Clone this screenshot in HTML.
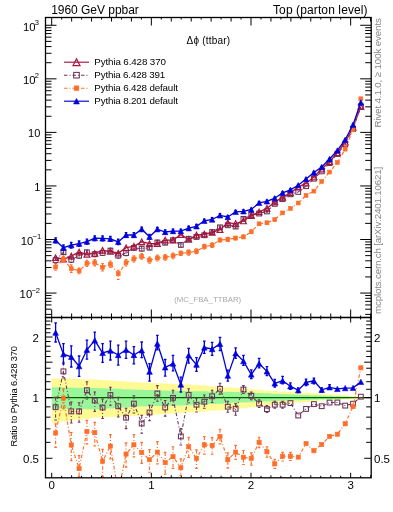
<!DOCTYPE html><html><head><meta charset="utf-8"><style>html,body{margin:0;padding:0;background:#fff;width:393px;height:512px;overflow:hidden}svg{display:block;will-change:transform}text{font-family:"Liberation Sans",sans-serif}</style></head><body>
<svg width="393" height="512" viewBox="0 0 393 512">
<defs><clipPath id="ct"><rect x="45.5" y="17.5" width="325.7" height="300"/></clipPath><clipPath id="cr"><rect x="45.5" y="317.5" width="325.7" height="160.3"/></clipPath></defs>
<g clip-path="url(#cr)">
<path d="M45.5 397.65H371.2" stroke="#000" stroke-width="1.4"/>
<path d="M51.7 378.14H59.53V387.36H51.7ZM51.7 408.77H59.53V422.52H51.7ZM59.53 378.43H67.35V387.49H59.53ZM59.53 408.92H67.35V421.56H59.53ZM67.35 378.72H75.18V387.62H67.35ZM67.35 409.06H75.18V420.61H67.35ZM75.18 379.01H83.01V387.74H75.18ZM75.18 409.21H83.01V419.65H75.18ZM83.01 379.3H90.83V387.87H83.01ZM83.01 409.35H90.83V418.69H83.01ZM90.83 379.59H98.66V388H90.83ZM90.83 409.5H98.66V417.73H90.83ZM98.66 380.07H106.49V388.28H98.66ZM98.66 409.03H106.49V417.35H98.66ZM106.49 380.56H114.31V388.58H106.49ZM106.49 408.54H114.31V416.99H106.49ZM114.31 381.05H122.14V388.87H114.31ZM114.31 408.05H122.14V416.64H114.31ZM122.14 381.54H129.96V389.16H122.14ZM122.14 407.56H129.96V416.28H122.14ZM129.96 382.03H137.79V389.46H129.96ZM129.96 407.07H137.79V415.92H129.96ZM137.79 382.52H145.62V389.75H137.79ZM137.79 406.58H145.62V415.56H137.79ZM145.62 382.86H153.44V389.98H145.62ZM145.62 406.32H153.44V415.08H145.62ZM153.44 383.18H161.27V390.2H153.44ZM153.44 406.1H161.27V414.58H153.44ZM161.27 383.5H169.1V390.41H161.27ZM161.27 405.89H169.1V414.08H161.27ZM169.1 383.81H176.92V390.63H169.1ZM169.1 405.67H176.92V413.58H169.1ZM176.92 384.13H184.75V390.85H176.92ZM176.92 405.45H184.75V413.08H176.92ZM184.75 384.45H192.58V391.06H184.75ZM184.75 405.24H192.58V412.59H184.75ZM192.58 384.98H200.4V391.21H192.58ZM192.58 404.87H200.4V412.02H192.58ZM200.4 385.57H208.23V391.34H200.4ZM200.4 404.47H208.23V411.43H200.4ZM208.23 386.15H216.06V391.48H208.23ZM208.23 404.07H216.06V410.85H208.23ZM216.06 386.73H223.88V391.61H216.06ZM216.06 403.67H223.88V410.27H216.06ZM223.88 387.31H231.71V391.74H223.88ZM223.88 403.27H231.71V409.69H223.88ZM231.71 387.9H239.54V391.88H231.71ZM231.71 402.87H239.54V409.1H231.71ZM239.54 388.51H247.36V392.2H239.54ZM239.54 402.5H247.36V408.29H239.54ZM247.36 389.14H255.19V392.57H247.36ZM247.36 402.13H255.19V407.43H247.36ZM255.19 389.76H263.02V392.94H255.19ZM255.19 401.76H263.02V406.56H255.19ZM263.02 390.38H270.84V393.3H263.02ZM263.02 401.4H270.84V405.7H263.02ZM270.84 391H278.67V393.67H270.84ZM270.84 401.03H278.67V404.84H270.84ZM278.67 391.63H286.49V394.04H278.67ZM278.67 400.66H286.49V403.98H278.67ZM286.49 392.11H294.32V394.36H286.49ZM286.49 400.38H294.32V403.23H286.49ZM294.32 392.48H302.15V394.64H294.32ZM294.32 400.16H302.15V402.58H294.32ZM302.15 392.85H309.97V394.92H302.15ZM302.15 399.94H309.97V401.93H302.15ZM309.97 393.22H317.8V395.21H309.97ZM309.97 399.73H317.8V401.28H309.97ZM317.8 393.59H325.63V395.49H317.8ZM317.8 399.51H325.63V400.62H317.8ZM325.63 394.15H333.45V395.84H325.63ZM325.63 399.23H333.45V400.23H325.63ZM333.45 394.72H341.28V396.2H333.45ZM333.45 398.94H341.28V399.85H333.45ZM341.28 395.29H349.11V396.55H341.28ZM341.28 398.66H349.11V399.48H341.28ZM349.11 395.86H356.93V396.91H349.11ZM349.11 398.37H356.93V399.1H349.11ZM356.93 396.6H364.76V397.18H356.93ZM356.93 398.12H364.76V398.58H356.93Z" fill="rgba(255,244,0,0.42)"/>
<path d="M51.7 387.36L59.53 387.36L59.53 387.49L67.35 387.49L67.35 387.62L75.18 387.62L75.18 387.74L83.01 387.74L83.01 387.87L90.83 387.87L90.83 388L98.66 388L98.66 388.28L106.49 388.28L106.49 388.58L114.31 388.58L114.31 388.87L122.14 388.87L122.14 389.16L129.96 389.16L129.96 389.46L137.79 389.46L137.79 389.75L145.62 389.75L145.62 389.98L153.44 389.98L153.44 390.2L161.27 390.2L161.27 390.41L169.1 390.41L169.1 390.63L176.92 390.63L176.92 390.85L184.75 390.85L184.75 391.06L192.58 391.06L192.58 391.21L200.4 391.21L200.4 391.34L208.23 391.34L208.23 391.48L216.06 391.48L216.06 391.61L223.88 391.61L223.88 391.74L231.71 391.74L231.71 391.88L239.54 391.88L239.54 392.2L247.36 392.2L247.36 392.57L255.19 392.57L255.19 392.94L263.02 392.94L263.02 393.3L270.84 393.3L270.84 393.67L278.67 393.67L278.67 394.04L286.49 394.04L286.49 394.36L294.32 394.36L294.32 394.64L302.15 394.64L302.15 394.92L309.97 394.92L309.97 395.21L317.8 395.21L317.8 395.49L325.63 395.49L325.63 395.84L333.45 395.84L333.45 396.2L341.28 396.2L341.28 396.55L349.11 396.55L349.11 396.91L356.93 396.91L356.93 397.18L364.76 397.18L364.76 398.12L356.93 398.12L356.93 398.37L349.11 398.37L349.11 398.66L341.28 398.66L341.28 398.94L333.45 398.94L333.45 399.23L325.63 399.23L325.63 399.51L317.8 399.51L317.8 399.73L309.97 399.73L309.97 399.94L302.15 399.94L302.15 400.16L294.32 400.16L294.32 400.38L286.49 400.38L286.49 400.66L278.67 400.66L278.67 401.03L270.84 401.03L270.84 401.4L263.02 401.4L263.02 401.76L255.19 401.76L255.19 402.13L247.36 402.13L247.36 402.5L239.54 402.5L239.54 402.87L231.71 402.87L231.71 403.27L223.88 403.27L223.88 403.67L216.06 403.67L216.06 404.07L208.23 404.07L208.23 404.47L200.4 404.47L200.4 404.87L192.58 404.87L192.58 405.24L184.75 405.24L184.75 405.45L176.92 405.45L176.92 405.67L169.1 405.67L169.1 405.89L161.27 405.89L161.27 406.1L153.44 406.1L153.44 406.32L145.62 406.32L145.62 406.58L137.79 406.58L137.79 407.07L129.96 407.07L129.96 407.56L122.14 407.56L122.14 408.05L114.31 408.05L114.31 408.54L106.49 408.54L106.49 409.03L98.66 409.03L98.66 409.5L90.83 409.5L90.83 409.35L83.01 409.35L83.01 409.21L75.18 409.21L75.18 409.06L67.35 409.06L67.35 408.92L59.53 408.92L59.53 408.77L51.7 408.77Z" fill="rgba(0,235,0,0.4)"/>
</g>
<g clip-path="url(#ct)"><path d="M55.61 260.24L63.44 252.27L71.27 259.72L79.09 255.72L86.92 252.34L94.75 254.18L102.57 252.92L110.4 250.61L118.23 255.54L126.05 253.06L133.88 247.92L141.7 248.67L149.53 247.65L157.36 242.44L165.18 242.69L173.01 240.19L180.84 244.9L188.66 238.76L196.49 236.94L204.32 235.21L212.14 232.08L219.97 227.34L227.8 225.27L235.62 226.56L243.45 218.88L251.28 215.16L259.1 213.54L266.93 211.43L274.76 203.86L282.58 199.17L290.41 194.28L298.23 191.93L306.06 186.17L313.89 178.7L321.71 171.36L329.54 163.07L337.37 154.02L345.19 144.35L353.02 128.94L360.85 106.44" fill="none" stroke="#6c3358" stroke-width="1.05" stroke-dasharray="3.5 2 1 2"/><path d="M55.61 257.22V263.26M54.31 257.22H56.91M54.31 263.26H56.91M63.44 250.2V254.35M62.14 250.2H64.74M62.14 254.35H64.74M71.27 256.93V262.51M69.97 256.93H72.57M69.97 262.51H72.57M79.09 253.13V258.31M77.79 253.13H80.39M77.79 258.31H80.39M86.92 250.06V254.63M85.62 250.06H88.22M85.62 254.63H88.22M94.75 251.59V256.77M93.45 251.59H96.05M93.45 256.77H96.05M102.57 250.33V255.51M101.27 250.33H103.87M101.27 255.51H103.87M110.4 248.21V253M109.1 248.21H111.7M109.1 253H111.7M118.23 252.94V258.15M116.93 252.94H119.53M116.93 258.15H119.53M126.05 250.36V255.76M124.75 250.36H127.35M124.75 255.76H127.35M133.88 245.64V250.21M132.58 245.64H135.18M132.58 250.21H135.18M141.7 246.27V251.06M140.4 246.27H143M140.4 251.06H143M149.53 245.58V249.72M148.23 245.58H150.83M148.23 249.72H150.83M157.36 240.36V244.53M156.06 240.36H158.66M156.06 244.53H158.66M165.18 240.62V244.76M163.88 240.62H166.48M163.88 244.76H166.48M173.01 238.21V242.18M171.71 238.21H174.31M171.71 242.18H174.31M180.84 242.72V247.08M179.54 242.72H182.14M179.54 247.08H182.14M188.66 236.9V240.62M187.36 236.9H189.96M187.36 240.62H189.96M196.49 235.1V238.77M195.19 235.1H197.79M195.19 238.77H197.79M204.32 233.44V236.98M203.02 233.44H205.62M203.02 236.98H205.62M212.14 230.46V233.7M210.84 230.46H213.44M210.84 233.7H213.44M219.97 225.89V228.79M218.67 225.89H221.27M218.67 228.79H221.27M227.8 223.82V226.72M226.5 223.82H229.1M226.5 226.72H229.1M235.62 225V228.11M234.32 225H236.92M234.32 228.11H236.92M243.45 217.84V219.92M242.15 217.84H244.75M242.15 219.92H244.75M251.28 214.13V216.2M249.98 214.13H252.58M249.98 216.2H252.58M259.1 212.5V214.57M257.8 212.5H260.4M257.8 214.57H260.4M266.93 210.51V212.34M265.63 210.51H268.23M265.63 212.34H268.23M274.76 202.93V204.79M273.46 202.93H276.06M273.46 204.79H276.06M282.58 198.24V200.1M281.28 198.24H283.88M281.28 200.1H283.88" fill="none" stroke="#6c3358" stroke-width="1.05" stroke-dasharray="3.5 2 1 2"/><rect x="53.21" y="257.84" width="4.8" height="4.8" fill="none" stroke="#6c3358" stroke-width="1.05"/><rect x="61.04" y="249.87" width="4.8" height="4.8" fill="none" stroke="#6c3358" stroke-width="1.05"/><rect x="68.87" y="257.32" width="4.8" height="4.8" fill="none" stroke="#6c3358" stroke-width="1.05"/><rect x="76.69" y="253.32" width="4.8" height="4.8" fill="none" stroke="#6c3358" stroke-width="1.05"/><rect x="84.52" y="249.94" width="4.8" height="4.8" fill="none" stroke="#6c3358" stroke-width="1.05"/><rect x="92.35" y="251.78" width="4.8" height="4.8" fill="none" stroke="#6c3358" stroke-width="1.05"/><rect x="100.17" y="250.52" width="4.8" height="4.8" fill="none" stroke="#6c3358" stroke-width="1.05"/><rect x="108" y="248.21" width="4.8" height="4.8" fill="none" stroke="#6c3358" stroke-width="1.05"/><rect x="115.83" y="253.14" width="4.8" height="4.8" fill="none" stroke="#6c3358" stroke-width="1.05"/><rect x="123.65" y="250.66" width="4.8" height="4.8" fill="none" stroke="#6c3358" stroke-width="1.05"/><rect x="131.48" y="245.52" width="4.8" height="4.8" fill="none" stroke="#6c3358" stroke-width="1.05"/><rect x="139.3" y="246.27" width="4.8" height="4.8" fill="none" stroke="#6c3358" stroke-width="1.05"/><rect x="147.13" y="245.25" width="4.8" height="4.8" fill="none" stroke="#6c3358" stroke-width="1.05"/><rect x="154.96" y="240.04" width="4.8" height="4.8" fill="none" stroke="#6c3358" stroke-width="1.05"/><rect x="162.78" y="240.29" width="4.8" height="4.8" fill="none" stroke="#6c3358" stroke-width="1.05"/><rect x="170.61" y="237.79" width="4.8" height="4.8" fill="none" stroke="#6c3358" stroke-width="1.05"/><rect x="178.44" y="242.5" width="4.8" height="4.8" fill="none" stroke="#6c3358" stroke-width="1.05"/><rect x="186.26" y="236.36" width="4.8" height="4.8" fill="none" stroke="#6c3358" stroke-width="1.05"/><rect x="194.09" y="234.54" width="4.8" height="4.8" fill="none" stroke="#6c3358" stroke-width="1.05"/><rect x="201.92" y="232.81" width="4.8" height="4.8" fill="none" stroke="#6c3358" stroke-width="1.05"/><rect x="209.74" y="229.68" width="4.8" height="4.8" fill="none" stroke="#6c3358" stroke-width="1.05"/><rect x="217.57" y="224.94" width="4.8" height="4.8" fill="none" stroke="#6c3358" stroke-width="1.05"/><rect x="225.4" y="222.87" width="4.8" height="4.8" fill="none" stroke="#6c3358" stroke-width="1.05"/><rect x="233.22" y="224.16" width="4.8" height="4.8" fill="none" stroke="#6c3358" stroke-width="1.05"/><rect x="241.05" y="216.48" width="4.8" height="4.8" fill="none" stroke="#6c3358" stroke-width="1.05"/><rect x="248.88" y="212.76" width="4.8" height="4.8" fill="none" stroke="#6c3358" stroke-width="1.05"/><rect x="256.7" y="211.14" width="4.8" height="4.8" fill="none" stroke="#6c3358" stroke-width="1.05"/><rect x="264.53" y="209.03" width="4.8" height="4.8" fill="none" stroke="#6c3358" stroke-width="1.05"/><rect x="272.36" y="201.46" width="4.8" height="4.8" fill="none" stroke="#6c3358" stroke-width="1.05"/><rect x="280.18" y="196.77" width="4.8" height="4.8" fill="none" stroke="#6c3358" stroke-width="1.05"/><rect x="288.01" y="191.88" width="4.8" height="4.8" fill="none" stroke="#6c3358" stroke-width="1.05"/><rect x="295.83" y="189.53" width="4.8" height="4.8" fill="none" stroke="#6c3358" stroke-width="1.05"/><rect x="303.66" y="183.77" width="4.8" height="4.8" fill="none" stroke="#6c3358" stroke-width="1.05"/><rect x="311.49" y="176.3" width="4.8" height="4.8" fill="none" stroke="#6c3358" stroke-width="1.05"/><rect x="319.31" y="168.96" width="4.8" height="4.8" fill="none" stroke="#6c3358" stroke-width="1.05"/><rect x="327.14" y="160.67" width="4.8" height="4.8" fill="none" stroke="#6c3358" stroke-width="1.05"/><rect x="334.97" y="151.62" width="4.8" height="4.8" fill="none" stroke="#6c3358" stroke-width="1.05"/><rect x="342.79" y="141.95" width="4.8" height="4.8" fill="none" stroke="#6c3358" stroke-width="1.05"/><rect x="350.62" y="126.54" width="4.8" height="4.8" fill="none" stroke="#6c3358" stroke-width="1.05"/><rect x="358.45" y="104.04" width="4.8" height="4.8" fill="none" stroke="#6c3358" stroke-width="1.05"/></g>
<g clip-path="url(#ct)"><path d="M55.61 257.7L63.44 259.25L71.27 256.06L79.09 252.06L86.92 254.32L94.75 253.42L102.57 250.3L110.4 251.31L118.23 253.24L126.05 247.72L133.88 246.34L141.7 241.79L149.53 243.7L157.36 243.57L165.18 240.07L173.01 240.15L180.84 234.6L188.66 239.46L196.49 235.06L204.32 234.14L212.14 232.44L219.97 229.69L227.8 222.86L235.62 223.59L243.45 221.02L251.28 215.66L259.1 211.95L266.93 208.38L274.76 201.99L282.58 197.29L290.41 192.83L298.23 187.18L306.06 183.18L313.89 176.98L321.71 169.09L329.54 161.75L337.37 152.73L345.19 142.24L353.02 127.32L360.85 106.69" fill="none" stroke="#a8143c" stroke-width="1.3"/><path d="M55.61 254.94L58.51 260.45H52.71Z" fill="none" stroke="#a8143c" stroke-width="1.2" stroke-linejoin="miter"/><path d="M63.44 256.5L66.34 262.01H60.54Z" fill="none" stroke="#a8143c" stroke-width="1.2" stroke-linejoin="miter"/><path d="M71.27 253.31L74.17 258.82H68.37Z" fill="none" stroke="#a8143c" stroke-width="1.2" stroke-linejoin="miter"/><path d="M79.09 249.31L81.99 254.82H76.19Z" fill="none" stroke="#a8143c" stroke-width="1.2" stroke-linejoin="miter"/><path d="M86.92 251.57L89.82 257.08H84.02Z" fill="none" stroke="#a8143c" stroke-width="1.2" stroke-linejoin="miter"/><path d="M94.75 250.67L97.65 256.18H91.85Z" fill="none" stroke="#a8143c" stroke-width="1.2" stroke-linejoin="miter"/><path d="M102.57 247.55L105.47 253.06H99.67Z" fill="none" stroke="#a8143c" stroke-width="1.2" stroke-linejoin="miter"/><path d="M110.4 248.56L113.3 254.07H107.5Z" fill="none" stroke="#a8143c" stroke-width="1.2" stroke-linejoin="miter"/><path d="M118.23 250.49L121.13 256H115.33Z" fill="none" stroke="#a8143c" stroke-width="1.2" stroke-linejoin="miter"/><path d="M126.05 244.97L128.95 250.48H123.15Z" fill="none" stroke="#a8143c" stroke-width="1.2" stroke-linejoin="miter"/><path d="M133.88 243.59L136.78 249.1H130.98Z" fill="none" stroke="#a8143c" stroke-width="1.2" stroke-linejoin="miter"/><path d="M141.7 239.04L144.6 244.55H138.8Z" fill="none" stroke="#a8143c" stroke-width="1.2" stroke-linejoin="miter"/><path d="M149.53 240.95L152.43 246.46H146.63Z" fill="none" stroke="#a8143c" stroke-width="1.2" stroke-linejoin="miter"/><path d="M157.36 240.82L160.26 246.33H154.46Z" fill="none" stroke="#a8143c" stroke-width="1.2" stroke-linejoin="miter"/><path d="M165.18 237.32L168.08 242.83H162.28Z" fill="none" stroke="#a8143c" stroke-width="1.2" stroke-linejoin="miter"/><path d="M173.01 237.4L175.91 242.91H170.11Z" fill="none" stroke="#a8143c" stroke-width="1.2" stroke-linejoin="miter"/><path d="M180.84 231.84L183.74 237.35H177.94Z" fill="none" stroke="#a8143c" stroke-width="1.2" stroke-linejoin="miter"/><path d="M188.66 236.71L191.56 242.22H185.76Z" fill="none" stroke="#a8143c" stroke-width="1.2" stroke-linejoin="miter"/><path d="M196.49 232.31L199.39 237.82H193.59Z" fill="none" stroke="#a8143c" stroke-width="1.2" stroke-linejoin="miter"/><path d="M204.32 231.38L207.22 236.89H201.42Z" fill="none" stroke="#a8143c" stroke-width="1.2" stroke-linejoin="miter"/><path d="M212.14 229.68L215.04 235.19H209.24Z" fill="none" stroke="#a8143c" stroke-width="1.2" stroke-linejoin="miter"/><path d="M219.97 226.94L222.87 232.45H217.07Z" fill="none" stroke="#a8143c" stroke-width="1.2" stroke-linejoin="miter"/><path d="M227.8 220.11L230.7 225.62H224.9Z" fill="none" stroke="#a8143c" stroke-width="1.2" stroke-linejoin="miter"/><path d="M235.62 220.84L238.52 226.35H232.72Z" fill="none" stroke="#a8143c" stroke-width="1.2" stroke-linejoin="miter"/><path d="M243.45 218.26L246.35 223.77H240.55Z" fill="none" stroke="#a8143c" stroke-width="1.2" stroke-linejoin="miter"/><path d="M251.28 212.9L254.18 218.41H248.38Z" fill="none" stroke="#a8143c" stroke-width="1.2" stroke-linejoin="miter"/><path d="M259.1 209.2L262 214.71H256.2Z" fill="none" stroke="#a8143c" stroke-width="1.2" stroke-linejoin="miter"/><path d="M266.93 205.63L269.83 211.14H264.03Z" fill="none" stroke="#a8143c" stroke-width="1.2" stroke-linejoin="miter"/><path d="M274.76 199.23L277.66 204.74H271.86Z" fill="none" stroke="#a8143c" stroke-width="1.2" stroke-linejoin="miter"/><path d="M282.58 194.54L285.48 200.05H279.68Z" fill="none" stroke="#a8143c" stroke-width="1.2" stroke-linejoin="miter"/><path d="M290.41 190.08L293.31 195.59H287.51Z" fill="none" stroke="#a8143c" stroke-width="1.2" stroke-linejoin="miter"/><path d="M298.23 184.43L301.13 189.94H295.33Z" fill="none" stroke="#a8143c" stroke-width="1.2" stroke-linejoin="miter"/><path d="M306.06 180.43L308.96 185.94H303.16Z" fill="none" stroke="#a8143c" stroke-width="1.2" stroke-linejoin="miter"/><path d="M313.89 174.23L316.79 179.74H310.99Z" fill="none" stroke="#a8143c" stroke-width="1.2" stroke-linejoin="miter"/><path d="M321.71 166.33L324.61 171.84H318.81Z" fill="none" stroke="#a8143c" stroke-width="1.2" stroke-linejoin="miter"/><path d="M329.54 159L332.44 164.51H326.64Z" fill="none" stroke="#a8143c" stroke-width="1.2" stroke-linejoin="miter"/><path d="M337.37 149.97L340.27 155.48H334.47Z" fill="none" stroke="#a8143c" stroke-width="1.2" stroke-linejoin="miter"/><path d="M345.19 139.48L348.09 144.99H342.29Z" fill="none" stroke="#a8143c" stroke-width="1.2" stroke-linejoin="miter"/><path d="M353.02 124.56L355.92 130.07H350.12Z" fill="none" stroke="#a8143c" stroke-width="1.2" stroke-linejoin="miter"/><path d="M360.85 103.93L363.75 109.44H357.95Z" fill="none" stroke="#a8143c" stroke-width="1.2" stroke-linejoin="miter"/></g>
<g clip-path="url(#ct)"><path d="M55.61 267.1L63.44 259.37L71.27 268.65L79.09 270.93L86.92 263.33L94.75 262.72L102.57 267.23L110.4 264.2L118.23 273.8L126.05 262.74L133.88 258.88L141.7 256.35L149.53 260.2L157.36 258.05L165.18 257.34L173.01 255.83L180.84 253.22L188.66 252.51L196.49 251.22L204.32 246.67L212.14 245.14L219.97 240.02L227.8 239.36L235.62 238.07L243.45 236.86L251.28 231.81L259.1 223.83L266.93 222.78L274.76 219.61L282.58 212.89L290.41 208.4L298.23 202.99L306.06 195.37L313.89 191.09L321.71 181.55L329.54 172.06L337.37 162.45L345.19 149.18L353.02 129.7L360.85 98.75" fill="none" stroke="#ff6e28" stroke-width="1.15" stroke-dasharray="3.5 2 1 2"/><path d="M55.61 263.96V270.24M54.31 263.96H56.91M54.31 270.24H56.91M63.44 256.69V262.06M62.14 256.69H64.74M62.14 262.06H64.74M71.27 264.91V272.4M69.97 264.91H72.57M69.97 272.4H72.57M79.09 268.14V273.72M77.79 268.14H80.39M77.79 273.72H80.39M86.92 260.21V266.44M85.62 260.21H88.22M85.62 266.44H88.22M94.75 259.57V265.87M93.45 259.57H96.05M93.45 265.87H96.05M102.57 263.6V270.86M101.27 263.6H103.87M101.27 270.86H103.87M110.4 260.98V267.41M109.1 260.98H111.7M109.1 267.41H111.7M118.23 270.2V279.3M116.93 270.2H119.53M116.93 279.3H119.53M126.05 259.52V265.95M124.75 259.52H127.35M124.75 265.95H127.35M133.88 255.92V261.85M132.58 255.92H135.18M132.58 261.85H135.18M141.7 253.56V259.14M140.4 253.56H143M140.4 259.14H143M149.53 257.18V263.22M148.23 257.18H150.83M148.23 263.22H150.83M157.36 255.09V261.02M156.06 255.09H158.66M156.06 261.02H158.66M165.18 254.46V260.23M163.88 254.46H166.48M163.88 260.23H166.48M173.01 252.96V258.7M171.71 252.96H174.31M171.71 258.7H174.31M180.84 251.03V255.42M179.54 251.03H182.14M179.54 255.42H182.14M188.66 249.81V255.2M187.36 249.81H189.96M187.36 255.2H189.96M196.49 248.77V253.66M195.19 248.77H197.79M195.19 253.66H197.79M204.32 244.33V249.01M203.02 244.33H205.62M203.02 249.01H205.62M212.14 242.94V247.33M210.84 242.94H213.44M210.84 247.33H213.44M219.97 238.07V241.98M218.67 238.07H221.27M218.67 241.98H221.27M227.8 237.33V241.4M226.5 237.33H229.1M226.5 241.4H229.1M235.62 236.21V239.93M234.32 236.21H236.92M234.32 239.93H236.92M243.45 234.99V238.72M242.15 234.99H244.75M242.15 238.72H244.75M251.28 230.16V233.46M249.98 230.16H252.58M249.98 233.46H252.58M259.1 222.43V225.22M257.8 222.43H260.4M257.8 225.22H260.4M266.93 221.38V224.18M265.63 221.38H268.23M265.63 224.18H268.23M274.76 218.4V220.82M273.46 218.4H276.06M273.46 220.82H276.06M282.58 211.75V214.03M281.28 211.75H283.88M281.28 214.03H283.88M290.41 207.31V209.49M289.11 207.31H291.71M289.11 209.49H291.71" fill="none" stroke="#ff6e28" stroke-width="1.15" stroke-dasharray="3.5 2 1 2"/><rect x="53.66" y="265.15" width="3.9" height="3.9" fill="#ff6e28" stroke="#ff6e28" stroke-width="0.6"/><rect x="61.49" y="257.42" width="3.9" height="3.9" fill="#ff6e28" stroke="#ff6e28" stroke-width="0.6"/><rect x="69.32" y="266.7" width="3.9" height="3.9" fill="#ff6e28" stroke="#ff6e28" stroke-width="0.6"/><rect x="77.14" y="268.98" width="3.9" height="3.9" fill="#ff6e28" stroke="#ff6e28" stroke-width="0.6"/><rect x="84.97" y="261.38" width="3.9" height="3.9" fill="#ff6e28" stroke="#ff6e28" stroke-width="0.6"/><rect x="92.8" y="260.77" width="3.9" height="3.9" fill="#ff6e28" stroke="#ff6e28" stroke-width="0.6"/><rect x="100.62" y="265.28" width="3.9" height="3.9" fill="#ff6e28" stroke="#ff6e28" stroke-width="0.6"/><rect x="108.45" y="262.25" width="3.9" height="3.9" fill="#ff6e28" stroke="#ff6e28" stroke-width="0.6"/><rect x="116.28" y="271.85" width="3.9" height="3.9" fill="#ff6e28" stroke="#ff6e28" stroke-width="0.6"/><rect x="124.1" y="260.79" width="3.9" height="3.9" fill="#ff6e28" stroke="#ff6e28" stroke-width="0.6"/><rect x="131.93" y="256.93" width="3.9" height="3.9" fill="#ff6e28" stroke="#ff6e28" stroke-width="0.6"/><rect x="139.75" y="254.4" width="3.9" height="3.9" fill="#ff6e28" stroke="#ff6e28" stroke-width="0.6"/><rect x="147.58" y="258.25" width="3.9" height="3.9" fill="#ff6e28" stroke="#ff6e28" stroke-width="0.6"/><rect x="155.41" y="256.1" width="3.9" height="3.9" fill="#ff6e28" stroke="#ff6e28" stroke-width="0.6"/><rect x="163.23" y="255.39" width="3.9" height="3.9" fill="#ff6e28" stroke="#ff6e28" stroke-width="0.6"/><rect x="171.06" y="253.88" width="3.9" height="3.9" fill="#ff6e28" stroke="#ff6e28" stroke-width="0.6"/><rect x="178.89" y="251.27" width="3.9" height="3.9" fill="#ff6e28" stroke="#ff6e28" stroke-width="0.6"/><rect x="186.71" y="250.56" width="3.9" height="3.9" fill="#ff6e28" stroke="#ff6e28" stroke-width="0.6"/><rect x="194.54" y="249.27" width="3.9" height="3.9" fill="#ff6e28" stroke="#ff6e28" stroke-width="0.6"/><rect x="202.37" y="244.72" width="3.9" height="3.9" fill="#ff6e28" stroke="#ff6e28" stroke-width="0.6"/><rect x="210.19" y="243.19" width="3.9" height="3.9" fill="#ff6e28" stroke="#ff6e28" stroke-width="0.6"/><rect x="218.02" y="238.07" width="3.9" height="3.9" fill="#ff6e28" stroke="#ff6e28" stroke-width="0.6"/><rect x="225.85" y="237.41" width="3.9" height="3.9" fill="#ff6e28" stroke="#ff6e28" stroke-width="0.6"/><rect x="233.67" y="236.12" width="3.9" height="3.9" fill="#ff6e28" stroke="#ff6e28" stroke-width="0.6"/><rect x="241.5" y="234.91" width="3.9" height="3.9" fill="#ff6e28" stroke="#ff6e28" stroke-width="0.6"/><rect x="249.33" y="229.86" width="3.9" height="3.9" fill="#ff6e28" stroke="#ff6e28" stroke-width="0.6"/><rect x="257.15" y="221.88" width="3.9" height="3.9" fill="#ff6e28" stroke="#ff6e28" stroke-width="0.6"/><rect x="264.98" y="220.83" width="3.9" height="3.9" fill="#ff6e28" stroke="#ff6e28" stroke-width="0.6"/><rect x="272.81" y="217.66" width="3.9" height="3.9" fill="#ff6e28" stroke="#ff6e28" stroke-width="0.6"/><rect x="280.63" y="210.94" width="3.9" height="3.9" fill="#ff6e28" stroke="#ff6e28" stroke-width="0.6"/><rect x="288.46" y="206.45" width="3.9" height="3.9" fill="#ff6e28" stroke="#ff6e28" stroke-width="0.6"/><rect x="296.28" y="201.04" width="3.9" height="3.9" fill="#ff6e28" stroke="#ff6e28" stroke-width="0.6"/><rect x="304.11" y="193.42" width="3.9" height="3.9" fill="#ff6e28" stroke="#ff6e28" stroke-width="0.6"/><rect x="311.94" y="189.14" width="3.9" height="3.9" fill="#ff6e28" stroke="#ff6e28" stroke-width="0.6"/><rect x="319.76" y="179.6" width="3.9" height="3.9" fill="#ff6e28" stroke="#ff6e28" stroke-width="0.6"/><rect x="327.59" y="170.11" width="3.9" height="3.9" fill="#ff6e28" stroke="#ff6e28" stroke-width="0.6"/><rect x="335.42" y="160.5" width="3.9" height="3.9" fill="#ff6e28" stroke="#ff6e28" stroke-width="0.6"/><rect x="343.24" y="147.23" width="3.9" height="3.9" fill="#ff6e28" stroke="#ff6e28" stroke-width="0.6"/><rect x="351.07" y="127.75" width="3.9" height="3.9" fill="#ff6e28" stroke="#ff6e28" stroke-width="0.6"/><rect x="358.9" y="96.8" width="3.9" height="3.9" fill="#ff6e28" stroke="#ff6e28" stroke-width="0.6"/></g>
<g clip-path="url(#ct)"><path d="M55.61 240.4L63.44 247.7L71.27 245.2L79.09 243.7L86.92 241.6L94.75 238.2L102.57 238.4L110.4 238.8L118.23 241.9L126.05 235L133.88 235L141.7 229.2L149.53 236.8L157.36 229.2L165.18 232L173.01 231.1L180.84 231.1L188.66 228.2L196.49 226.3L204.32 220.8L212.14 219.5L219.97 215.4L227.8 217L235.62 211.8L243.45 211.3L251.28 209.5L259.1 202.9L266.93 201.4L274.76 198.2L282.58 192.8L290.41 189.8L298.23 185.2L306.06 179.1L313.89 172.5L321.71 167L329.54 159L337.37 150.4L345.19 139.7L353.02 124.7L360.85 102.5" fill="none" stroke="#0000dd" stroke-width="1.3"/><path d="M55.61 237.86V242.94M54.31 237.86H56.91M54.31 242.94H56.91M63.44 245V250.4M62.14 245H64.74M62.14 250.4H64.74M71.27 242.39V248.01M69.97 242.39H72.57M69.97 248.01H72.57M79.09 240.99V246.41M77.79 240.99H80.39M77.79 246.41H80.39M86.92 239.06V244.14M85.62 239.06H88.22M85.62 244.14H88.22M94.75 235.82V240.58M93.45 235.82H96.05M93.45 240.58H96.05M102.57 235.91V240.89M101.27 235.91H103.87M101.27 240.89H103.87M110.4 236.3V241.3M109.1 236.3H111.7M109.1 241.3H111.7M118.23 239.24V244.56M116.93 239.24H119.53M116.93 244.56H119.53M126.05 232.71V237.29M124.75 232.71H127.35M124.75 237.29H127.35M133.88 232.71V237.29M132.58 232.71H135.18M132.58 237.29H135.18M141.7 227.13V231.27M140.4 227.13H143M140.4 231.27H143M149.53 234.47V239.13M148.23 234.47H150.83M148.23 239.13H150.83M157.36 227.29V231.11M156.06 227.29H158.66M156.06 231.11H158.66M165.18 229.79V234.21M163.88 229.79H166.48M163.88 234.21H166.48M173.01 229.03V233.17M171.71 229.03H174.31M171.71 233.17H174.31M180.84 229.13V233.07M179.54 229.13H182.14M179.54 233.07H182.14M188.66 226.23V230.17M187.36 226.23H189.96M187.36 230.17H189.96M196.49 224.47V228.13M195.19 224.47H197.79M195.19 228.13H197.79M204.32 219.19V222.41M203.02 219.19H205.62M203.02 222.41H205.62M212.14 217.77V221.23M210.84 217.77H213.44M210.84 221.23H213.44M219.97 213.63V217.17M218.67 213.63H221.27M218.67 217.17H221.27M227.8 215.54V218.46M226.5 215.54H229.1M226.5 218.46H229.1M235.62 210.4V213.2M234.32 210.4H236.92M234.32 213.2H236.92M243.45 209.96V212.64M242.15 209.96H244.75M242.15 212.64H244.75M251.28 208.32V210.68M249.98 208.32H252.58M249.98 210.68H252.58M259.1 201.65V204.15M257.8 201.65H260.4M257.8 204.15H260.4M266.93 200.22V202.58M265.63 200.22H268.23M265.63 202.58H268.23M274.76 197.2V199.2M273.46 197.2H276.06M273.46 199.2H276.06M282.58 191.8V193.8M281.28 191.8H283.88M281.28 193.8H283.88M290.41 188.92V190.68M289.11 188.92H291.71M289.11 190.68H291.71M298.23 184.58V185.82M296.93 184.58H299.53M296.93 185.82H299.53M306.06 178.26V179.94M304.76 178.26H307.36M304.76 179.94H307.36M313.89 171.73V173.27M312.59 171.73H315.19M312.59 173.27H315.19M321.71 166.41V167.59M320.41 166.41H323.01M320.41 167.59H323.01M329.54 158.38V159.62M328.24 158.38H330.84M328.24 159.62H330.84" fill="none" stroke="#0000dd" stroke-width="1.3"/><path d="M55.61 237.74L58.41 243.06H52.81Z" fill="#0000dd" stroke="#0000dd" stroke-width="0.6" stroke-linejoin="miter"/><path d="M63.44 245.04L66.24 250.36H60.64Z" fill="#0000dd" stroke="#0000dd" stroke-width="0.6" stroke-linejoin="miter"/><path d="M71.27 242.54L74.07 247.86H68.47Z" fill="#0000dd" stroke="#0000dd" stroke-width="0.6" stroke-linejoin="miter"/><path d="M79.09 241.04L81.89 246.36H76.29Z" fill="#0000dd" stroke="#0000dd" stroke-width="0.6" stroke-linejoin="miter"/><path d="M86.92 238.94L89.72 244.26H84.12Z" fill="#0000dd" stroke="#0000dd" stroke-width="0.6" stroke-linejoin="miter"/><path d="M94.75 235.54L97.55 240.86H91.95Z" fill="#0000dd" stroke="#0000dd" stroke-width="0.6" stroke-linejoin="miter"/><path d="M102.57 235.74L105.37 241.06H99.77Z" fill="#0000dd" stroke="#0000dd" stroke-width="0.6" stroke-linejoin="miter"/><path d="M110.4 236.14L113.2 241.46H107.6Z" fill="#0000dd" stroke="#0000dd" stroke-width="0.6" stroke-linejoin="miter"/><path d="M118.23 239.24L121.03 244.56H115.43Z" fill="#0000dd" stroke="#0000dd" stroke-width="0.6" stroke-linejoin="miter"/><path d="M126.05 232.34L128.85 237.66H123.25Z" fill="#0000dd" stroke="#0000dd" stroke-width="0.6" stroke-linejoin="miter"/><path d="M133.88 232.34L136.68 237.66H131.08Z" fill="#0000dd" stroke="#0000dd" stroke-width="0.6" stroke-linejoin="miter"/><path d="M141.7 226.54L144.5 231.86H138.9Z" fill="#0000dd" stroke="#0000dd" stroke-width="0.6" stroke-linejoin="miter"/><path d="M149.53 234.14L152.33 239.46H146.73Z" fill="#0000dd" stroke="#0000dd" stroke-width="0.6" stroke-linejoin="miter"/><path d="M157.36 226.54L160.16 231.86H154.56Z" fill="#0000dd" stroke="#0000dd" stroke-width="0.6" stroke-linejoin="miter"/><path d="M165.18 229.34L167.98 234.66H162.38Z" fill="#0000dd" stroke="#0000dd" stroke-width="0.6" stroke-linejoin="miter"/><path d="M173.01 228.44L175.81 233.76H170.21Z" fill="#0000dd" stroke="#0000dd" stroke-width="0.6" stroke-linejoin="miter"/><path d="M180.84 228.44L183.64 233.76H178.04Z" fill="#0000dd" stroke="#0000dd" stroke-width="0.6" stroke-linejoin="miter"/><path d="M188.66 225.54L191.46 230.86H185.86Z" fill="#0000dd" stroke="#0000dd" stroke-width="0.6" stroke-linejoin="miter"/><path d="M196.49 223.64L199.29 228.96H193.69Z" fill="#0000dd" stroke="#0000dd" stroke-width="0.6" stroke-linejoin="miter"/><path d="M204.32 218.14L207.12 223.46H201.52Z" fill="#0000dd" stroke="#0000dd" stroke-width="0.6" stroke-linejoin="miter"/><path d="M212.14 216.84L214.94 222.16H209.34Z" fill="#0000dd" stroke="#0000dd" stroke-width="0.6" stroke-linejoin="miter"/><path d="M219.97 212.74L222.77 218.06H217.17Z" fill="#0000dd" stroke="#0000dd" stroke-width="0.6" stroke-linejoin="miter"/><path d="M227.8 214.34L230.6 219.66H225Z" fill="#0000dd" stroke="#0000dd" stroke-width="0.6" stroke-linejoin="miter"/><path d="M235.62 209.14L238.42 214.46H232.82Z" fill="#0000dd" stroke="#0000dd" stroke-width="0.6" stroke-linejoin="miter"/><path d="M243.45 208.64L246.25 213.96H240.65Z" fill="#0000dd" stroke="#0000dd" stroke-width="0.6" stroke-linejoin="miter"/><path d="M251.28 206.84L254.08 212.16H248.48Z" fill="#0000dd" stroke="#0000dd" stroke-width="0.6" stroke-linejoin="miter"/><path d="M259.1 200.24L261.9 205.56H256.3Z" fill="#0000dd" stroke="#0000dd" stroke-width="0.6" stroke-linejoin="miter"/><path d="M266.93 198.74L269.73 204.06H264.13Z" fill="#0000dd" stroke="#0000dd" stroke-width="0.6" stroke-linejoin="miter"/><path d="M274.76 195.54L277.56 200.86H271.96Z" fill="#0000dd" stroke="#0000dd" stroke-width="0.6" stroke-linejoin="miter"/><path d="M282.58 190.14L285.38 195.46H279.78Z" fill="#0000dd" stroke="#0000dd" stroke-width="0.6" stroke-linejoin="miter"/><path d="M290.41 187.14L293.21 192.46H287.61Z" fill="#0000dd" stroke="#0000dd" stroke-width="0.6" stroke-linejoin="miter"/><path d="M298.23 182.54L301.03 187.86H295.43Z" fill="#0000dd" stroke="#0000dd" stroke-width="0.6" stroke-linejoin="miter"/><path d="M306.06 176.44L308.86 181.76H303.26Z" fill="#0000dd" stroke="#0000dd" stroke-width="0.6" stroke-linejoin="miter"/><path d="M313.89 169.84L316.69 175.16H311.09Z" fill="#0000dd" stroke="#0000dd" stroke-width="0.6" stroke-linejoin="miter"/><path d="M321.71 164.34L324.51 169.66H318.91Z" fill="#0000dd" stroke="#0000dd" stroke-width="0.6" stroke-linejoin="miter"/><path d="M329.54 156.34L332.34 161.66H326.74Z" fill="#0000dd" stroke="#0000dd" stroke-width="0.6" stroke-linejoin="miter"/><path d="M337.37 147.74L340.17 153.06H334.57Z" fill="#0000dd" stroke="#0000dd" stroke-width="0.6" stroke-linejoin="miter"/><path d="M345.19 137.04L347.99 142.36H342.39Z" fill="#0000dd" stroke="#0000dd" stroke-width="0.6" stroke-linejoin="miter"/><path d="M353.02 122.04L355.82 127.36H350.22Z" fill="#0000dd" stroke="#0000dd" stroke-width="0.6" stroke-linejoin="miter"/><path d="M360.85 99.84L363.65 105.16H358.05Z" fill="#0000dd" stroke="#0000dd" stroke-width="0.6" stroke-linejoin="miter"/></g>
<g clip-path="url(#cr)"><path d="M55.61 407.2L63.44 371.4L71.27 411.4L79.09 411.4L86.92 390.2L94.75 400.5L102.57 407.5L110.4 395L118.23 406.3L126.05 417.7L133.88 403.6L141.7 423.5L149.53 412.5L157.36 393.4L165.18 407.5L173.01 397.8L180.84 436.4L188.66 395L196.49 404.7L204.32 401.7L212.14 396.3L219.97 388.8L227.8 406.7L235.62 408.8L243.45 389.6L251.28 395.8L259.1 403.6L266.93 409.1L274.76 404.7L282.58 404.7L290.41 403.1L298.23 415.5L306.06 408.9L313.89 404.1L321.71 406.2L329.54 402.6L337.37 402.5L345.19 405.6L353.02 403.75L360.85 396.7" fill="none" stroke="#6c3358" stroke-width="1.05" stroke-dasharray="3.5 2 1 2"/><path d="M55.61 397.3V420M54.31 397.3H56.91M54.31 420H56.91M63.44 362.3V377.9M62.14 362.3H64.74M62.14 377.9H64.74M71.27 402V423M69.97 402H72.57M69.97 423H72.57M79.09 402.8V422.3M77.79 402.8H80.39M77.79 422.3H80.39M86.92 381.7V398.9M85.62 381.7H88.22M85.62 398.9H88.22M94.75 391.9V411.4M93.45 391.9H96.05M93.45 411.4H96.05M102.57 398.9V418.4M101.27 398.9H103.87M101.27 418.4H103.87M110.4 387.2V405.2M109.1 387.2H111.7M109.1 405.2H111.7M118.23 397.3V416.9M116.93 397.3H119.53M116.93 416.9H119.53M126.05 408.3V428.6M124.75 408.3H127.35M124.75 428.6H127.35M133.88 395.8V413M132.58 395.8H135.18M132.58 413H135.18M141.7 415.3V433.3M140.4 415.3H143M140.4 433.3H143M149.53 405.2V420.8M148.23 405.2H150.83M148.23 420.8H150.83M157.36 385.6V401.3M156.06 385.6H158.66M156.06 401.3H158.66M165.18 400.5V416.1M163.88 400.5H166.48M163.88 416.1H166.48M173.01 390.3V405.2M171.71 390.3H174.31M171.71 405.2H174.31M180.84 428.6V445M179.54 428.6H182.14M179.54 445H182.14M188.66 388.8V402.8M187.36 388.8H189.96M187.36 402.8H189.96M196.49 398.1V411.9M195.19 398.1H197.79M195.19 411.9H197.79M204.32 395V408.3M203.02 395H205.62M203.02 408.3H205.62M212.14 390.3V402.5M210.84 390.3H213.44M210.84 402.5H213.44M219.97 383.3V394.2M218.67 383.3H221.27M218.67 394.2H221.27M227.8 401.3V412.2M226.5 401.3H229.1M226.5 412.2H229.1M235.62 403.6V415.3M234.32 403.6H236.92M234.32 415.3H236.92M243.45 385.6V393.4M242.15 385.6H244.75M242.15 393.4H244.75M251.28 391.9V399.7M249.98 391.9H252.58M249.98 399.7H252.58M259.1 399.7V407.5M257.8 399.7H260.4M257.8 407.5H260.4M266.93 405.6V412.5M265.63 405.6H268.23M265.63 412.5H268.23M274.76 401.3V408.3M273.46 401.3H276.06M273.46 408.3H276.06M282.58 401.3V408.3M281.28 401.3H283.88M281.28 408.3H283.88" fill="none" stroke="#6c3358" stroke-width="1.05" stroke-dasharray="3.5 2 1 2"/><rect x="53.21" y="404.8" width="4.8" height="4.8" fill="none" stroke="#6c3358" stroke-width="1.05"/><rect x="61.04" y="369" width="4.8" height="4.8" fill="none" stroke="#6c3358" stroke-width="1.05"/><rect x="68.87" y="409" width="4.8" height="4.8" fill="none" stroke="#6c3358" stroke-width="1.05"/><rect x="76.69" y="409" width="4.8" height="4.8" fill="none" stroke="#6c3358" stroke-width="1.05"/><rect x="84.52" y="387.8" width="4.8" height="4.8" fill="none" stroke="#6c3358" stroke-width="1.05"/><rect x="92.35" y="398.1" width="4.8" height="4.8" fill="none" stroke="#6c3358" stroke-width="1.05"/><rect x="100.17" y="405.1" width="4.8" height="4.8" fill="none" stroke="#6c3358" stroke-width="1.05"/><rect x="108" y="392.6" width="4.8" height="4.8" fill="none" stroke="#6c3358" stroke-width="1.05"/><rect x="115.83" y="403.9" width="4.8" height="4.8" fill="none" stroke="#6c3358" stroke-width="1.05"/><rect x="123.65" y="415.3" width="4.8" height="4.8" fill="none" stroke="#6c3358" stroke-width="1.05"/><rect x="131.48" y="401.2" width="4.8" height="4.8" fill="none" stroke="#6c3358" stroke-width="1.05"/><rect x="139.3" y="421.1" width="4.8" height="4.8" fill="none" stroke="#6c3358" stroke-width="1.05"/><rect x="147.13" y="410.1" width="4.8" height="4.8" fill="none" stroke="#6c3358" stroke-width="1.05"/><rect x="154.96" y="391" width="4.8" height="4.8" fill="none" stroke="#6c3358" stroke-width="1.05"/><rect x="162.78" y="405.1" width="4.8" height="4.8" fill="none" stroke="#6c3358" stroke-width="1.05"/><rect x="170.61" y="395.4" width="4.8" height="4.8" fill="none" stroke="#6c3358" stroke-width="1.05"/><rect x="178.44" y="434" width="4.8" height="4.8" fill="none" stroke="#6c3358" stroke-width="1.05"/><rect x="186.26" y="392.6" width="4.8" height="4.8" fill="none" stroke="#6c3358" stroke-width="1.05"/><rect x="194.09" y="402.3" width="4.8" height="4.8" fill="none" stroke="#6c3358" stroke-width="1.05"/><rect x="201.92" y="399.3" width="4.8" height="4.8" fill="none" stroke="#6c3358" stroke-width="1.05"/><rect x="209.74" y="393.9" width="4.8" height="4.8" fill="none" stroke="#6c3358" stroke-width="1.05"/><rect x="217.57" y="386.4" width="4.8" height="4.8" fill="none" stroke="#6c3358" stroke-width="1.05"/><rect x="225.4" y="404.3" width="4.8" height="4.8" fill="none" stroke="#6c3358" stroke-width="1.05"/><rect x="233.22" y="406.4" width="4.8" height="4.8" fill="none" stroke="#6c3358" stroke-width="1.05"/><rect x="241.05" y="387.2" width="4.8" height="4.8" fill="none" stroke="#6c3358" stroke-width="1.05"/><rect x="248.88" y="393.4" width="4.8" height="4.8" fill="none" stroke="#6c3358" stroke-width="1.05"/><rect x="256.7" y="401.2" width="4.8" height="4.8" fill="none" stroke="#6c3358" stroke-width="1.05"/><rect x="264.53" y="406.7" width="4.8" height="4.8" fill="none" stroke="#6c3358" stroke-width="1.05"/><rect x="272.36" y="402.3" width="4.8" height="4.8" fill="none" stroke="#6c3358" stroke-width="1.05"/><rect x="280.18" y="402.3" width="4.8" height="4.8" fill="none" stroke="#6c3358" stroke-width="1.05"/><rect x="288.01" y="400.7" width="4.8" height="4.8" fill="none" stroke="#6c3358" stroke-width="1.05"/><rect x="295.83" y="413.1" width="4.8" height="4.8" fill="none" stroke="#6c3358" stroke-width="1.05"/><rect x="303.66" y="406.5" width="4.8" height="4.8" fill="none" stroke="#6c3358" stroke-width="1.05"/><rect x="311.49" y="401.7" width="4.8" height="4.8" fill="none" stroke="#6c3358" stroke-width="1.05"/><rect x="319.31" y="403.8" width="4.8" height="4.8" fill="none" stroke="#6c3358" stroke-width="1.05"/><rect x="327.14" y="400.2" width="4.8" height="4.8" fill="none" stroke="#6c3358" stroke-width="1.05"/><rect x="334.97" y="400.1" width="4.8" height="4.8" fill="none" stroke="#6c3358" stroke-width="1.05"/><rect x="342.79" y="403.2" width="4.8" height="4.8" fill="none" stroke="#6c3358" stroke-width="1.05"/><rect x="350.62" y="401.35" width="4.8" height="4.8" fill="none" stroke="#6c3358" stroke-width="1.05"/><rect x="358.45" y="394.3" width="4.8" height="4.8" fill="none" stroke="#6c3358" stroke-width="1.05"/></g>
<g clip-path="url(#cr)"><path d="M55.61 433L63.44 398.1L71.27 445L79.09 468.6L86.92 431.5L94.75 432.6L102.57 461.3L110.4 446.1L118.23 492L126.05 454.1L133.88 444.8L141.7 452.4L149.53 459.7L157.36 452.1L165.18 462.6L173.01 456.6L180.84 467.7L188.66 446.7L196.49 458.4L204.32 444.8L212.14 445.4L219.97 436.5L227.8 459.7L235.62 452.1L243.45 457.2L251.28 458.4L259.1 442.3L266.93 451.8L274.76 463.9L282.58 456.3L290.41 456.2L298.23 457.1L306.06 443.5L313.89 450.7L321.71 444.5L329.54 436.4L337.37 434.2L345.19 423.75L353.02 406.6L360.85 367.8" fill="none" stroke="#ff6e28" stroke-width="1.15" stroke-dasharray="3.5 2 1 2"/><path d="M55.61 423.8V447.4M54.31 423.8H56.91M54.31 447.4H56.91M63.44 388.8V409M62.14 388.8H64.74M62.14 409H64.74M71.27 432.5V460.7M69.97 432.5H72.57M69.97 460.7H72.57M79.09 455.6V476.6M77.79 455.6H80.39M77.79 476.6H80.39M86.92 420.4V443.8M85.62 420.4H88.22M85.62 443.8H88.22M94.75 422.3V446M93.45 422.3H96.05M93.45 446H96.05M102.57 449.3V476.6M101.27 449.3H103.87M101.27 476.6H103.87M110.4 434.6V458.8M109.1 434.6H111.7M109.1 458.8H111.7M126.05 442.9V467.1M124.75 442.9H127.35M124.75 467.1H127.35M133.88 434.6V456.9M132.58 434.6H135.18M132.58 456.9H135.18M141.7 442.3V463.3M140.4 442.3H143M140.4 463.3H143M149.53 449.5V472.2M148.23 449.5H150.83M148.23 472.2H150.83M157.36 441.6V463.9M156.06 441.6H158.66M156.06 463.9H158.66M165.18 452.4V474.1M163.88 452.4H166.48M163.88 474.1H166.48M173.01 446.7V468.3M171.71 446.7H174.31M171.71 468.3H174.31M180.84 458.8V475.3M179.54 458.8H182.14M179.54 475.3H182.14M188.66 437.2V457.5M187.36 437.2H189.96M187.36 457.5H189.96M196.49 449.9V468.3M195.19 449.9H197.79M195.19 468.3H197.79M204.32 436.5V454.1M203.02 436.5H205.62M203.02 454.1H205.62M212.14 437.6V454.1M210.84 437.6H213.44M210.84 454.1H213.44M219.97 429.2V443.9M218.67 429.2H221.27M218.67 443.9H221.27M227.8 452.8V468.1M226.5 452.8H229.1M226.5 468.1H229.1M235.62 445.4V459.4M234.32 445.4H236.92M234.32 459.4H236.92M243.45 450.5V464.5M242.15 450.5H244.75M242.15 464.5H244.75M251.28 452.8V465.2M249.98 452.8H252.58M249.98 465.2H252.58M259.1 437.2V447.7M257.8 437.2H260.4M257.8 447.7H260.4M266.93 446.7V457.2M265.63 446.7H268.23M265.63 457.2H268.23M274.76 459.2V468.3M273.46 459.2H276.06M273.46 468.3H276.06M282.58 452.4V461M281.28 452.4H283.88M281.28 461H283.88M290.41 452.3V460.5M289.11 452.3H291.71M289.11 460.5H291.71" fill="none" stroke="#ff6e28" stroke-width="1.15" stroke-dasharray="3.5 2 1 2"/><rect x="53.51" y="430.9" width="4.2" height="4.2" fill="#ff6e28" stroke="#ff6e28" stroke-width="0.6"/><rect x="61.34" y="396" width="4.2" height="4.2" fill="#ff6e28" stroke="#ff6e28" stroke-width="0.6"/><rect x="69.17" y="442.9" width="4.2" height="4.2" fill="#ff6e28" stroke="#ff6e28" stroke-width="0.6"/><rect x="76.99" y="466.5" width="4.2" height="4.2" fill="#ff6e28" stroke="#ff6e28" stroke-width="0.6"/><rect x="84.82" y="429.4" width="4.2" height="4.2" fill="#ff6e28" stroke="#ff6e28" stroke-width="0.6"/><rect x="92.65" y="430.5" width="4.2" height="4.2" fill="#ff6e28" stroke="#ff6e28" stroke-width="0.6"/><rect x="100.47" y="459.2" width="4.2" height="4.2" fill="#ff6e28" stroke="#ff6e28" stroke-width="0.6"/><rect x="108.3" y="444" width="4.2" height="4.2" fill="#ff6e28" stroke="#ff6e28" stroke-width="0.6"/><rect x="116.13" y="489.9" width="4.2" height="4.2" fill="#ff6e28" stroke="#ff6e28" stroke-width="0.6"/><rect x="123.95" y="452" width="4.2" height="4.2" fill="#ff6e28" stroke="#ff6e28" stroke-width="0.6"/><rect x="131.78" y="442.7" width="4.2" height="4.2" fill="#ff6e28" stroke="#ff6e28" stroke-width="0.6"/><rect x="139.6" y="450.3" width="4.2" height="4.2" fill="#ff6e28" stroke="#ff6e28" stroke-width="0.6"/><rect x="147.43" y="457.6" width="4.2" height="4.2" fill="#ff6e28" stroke="#ff6e28" stroke-width="0.6"/><rect x="155.26" y="450" width="4.2" height="4.2" fill="#ff6e28" stroke="#ff6e28" stroke-width="0.6"/><rect x="163.08" y="460.5" width="4.2" height="4.2" fill="#ff6e28" stroke="#ff6e28" stroke-width="0.6"/><rect x="170.91" y="454.5" width="4.2" height="4.2" fill="#ff6e28" stroke="#ff6e28" stroke-width="0.6"/><rect x="178.74" y="465.6" width="4.2" height="4.2" fill="#ff6e28" stroke="#ff6e28" stroke-width="0.6"/><rect x="186.56" y="444.6" width="4.2" height="4.2" fill="#ff6e28" stroke="#ff6e28" stroke-width="0.6"/><rect x="194.39" y="456.3" width="4.2" height="4.2" fill="#ff6e28" stroke="#ff6e28" stroke-width="0.6"/><rect x="202.22" y="442.7" width="4.2" height="4.2" fill="#ff6e28" stroke="#ff6e28" stroke-width="0.6"/><rect x="210.04" y="443.3" width="4.2" height="4.2" fill="#ff6e28" stroke="#ff6e28" stroke-width="0.6"/><rect x="217.87" y="434.4" width="4.2" height="4.2" fill="#ff6e28" stroke="#ff6e28" stroke-width="0.6"/><rect x="225.7" y="457.6" width="4.2" height="4.2" fill="#ff6e28" stroke="#ff6e28" stroke-width="0.6"/><rect x="233.52" y="450" width="4.2" height="4.2" fill="#ff6e28" stroke="#ff6e28" stroke-width="0.6"/><rect x="241.35" y="455.1" width="4.2" height="4.2" fill="#ff6e28" stroke="#ff6e28" stroke-width="0.6"/><rect x="249.18" y="456.3" width="4.2" height="4.2" fill="#ff6e28" stroke="#ff6e28" stroke-width="0.6"/><rect x="257" y="440.2" width="4.2" height="4.2" fill="#ff6e28" stroke="#ff6e28" stroke-width="0.6"/><rect x="264.83" y="449.7" width="4.2" height="4.2" fill="#ff6e28" stroke="#ff6e28" stroke-width="0.6"/><rect x="272.66" y="461.8" width="4.2" height="4.2" fill="#ff6e28" stroke="#ff6e28" stroke-width="0.6"/><rect x="280.48" y="454.2" width="4.2" height="4.2" fill="#ff6e28" stroke="#ff6e28" stroke-width="0.6"/><rect x="288.31" y="454.1" width="4.2" height="4.2" fill="#ff6e28" stroke="#ff6e28" stroke-width="0.6"/><rect x="296.13" y="455" width="4.2" height="4.2" fill="#ff6e28" stroke="#ff6e28" stroke-width="0.6"/><rect x="303.96" y="441.4" width="4.2" height="4.2" fill="#ff6e28" stroke="#ff6e28" stroke-width="0.6"/><rect x="311.79" y="448.6" width="4.2" height="4.2" fill="#ff6e28" stroke="#ff6e28" stroke-width="0.6"/><rect x="319.61" y="442.4" width="4.2" height="4.2" fill="#ff6e28" stroke="#ff6e28" stroke-width="0.6"/><rect x="327.44" y="434.3" width="4.2" height="4.2" fill="#ff6e28" stroke="#ff6e28" stroke-width="0.6"/><rect x="335.27" y="432.1" width="4.2" height="4.2" fill="#ff6e28" stroke="#ff6e28" stroke-width="0.6"/><rect x="343.09" y="421.65" width="4.2" height="4.2" fill="#ff6e28" stroke="#ff6e28" stroke-width="0.6"/><rect x="350.92" y="404.5" width="4.2" height="4.2" fill="#ff6e28" stroke="#ff6e28" stroke-width="0.6"/><rect x="358.75" y="365.7" width="4.2" height="4.2" fill="#ff6e28" stroke="#ff6e28" stroke-width="0.6"/></g>
<g clip-path="url(#cr)"><path d="M55.61 332.6L63.44 354.2L71.27 356.8L79.09 366.2L86.92 349.8L94.75 340.4L102.57 352.9L110.4 350.6L118.23 355L126.05 349.8L133.88 355L141.7 350.3L149.53 371.7L157.36 343.6L165.18 367.3L173.01 363.6L180.84 384.5L188.66 355.3L196.49 364.7L204.32 347.5L212.14 349L219.97 343.9L227.8 375.6L235.62 353.3L243.45 361.1L251.28 374.5L259.1 363.6L266.93 371.4L274.76 383.4L282.58 380.75L290.41 386.25L298.23 390.2L306.06 382.3L313.89 380.8L321.71 389.8L329.54 387.3L337.37 388.9L345.19 388.1L353.02 387.8L360.85 381.9" fill="none" stroke="#0000dd" stroke-width="1.3"/><path d="M55.61 322.9V342M54.31 322.9H56.91M54.31 342H56.91M63.44 343.6V363.9M62.14 343.6H64.74M62.14 363.9H64.74M71.27 345.9V367M69.97 345.9H72.57M69.97 367H72.57M79.09 356V376.4M77.79 356H80.39M77.79 376.4H80.39M86.92 340.1V359.2M85.62 340.1H88.22M85.62 359.2H88.22M94.75 332.2V350.1M93.45 332.2H96.05M93.45 350.1H96.05M102.57 343.6V362.3M101.27 343.6H103.87M101.27 362.3H103.87M110.4 341.2V360M109.1 341.2H111.7M109.1 360H111.7M118.23 345.1V365.1M116.93 345.1H119.53M116.93 365.1H119.53M126.05 341.2V358.4M124.75 341.2H127.35M124.75 358.4H127.35M133.88 346.7V363.9M132.58 346.7H135.18M132.58 363.9H135.18M141.7 342V357.6M140.4 342H143M140.4 357.6H143M149.53 363.6V381.1M148.23 363.6H150.83M148.23 381.1H150.83M157.36 335.4V349.8M156.06 335.4H158.66M156.06 349.8H158.66M165.18 359.5V376.1M163.88 359.5H166.48M163.88 376.1H166.48M173.01 355.3V370.9M171.71 355.3H174.31M171.71 370.9H174.31M180.84 377.2V392M179.54 377.2H182.14M179.54 392H182.14M188.66 348.3V363.1M187.36 348.3H189.96M187.36 363.1H189.96M196.49 357.6V371.4M195.19 357.6H197.79M195.19 371.4H197.79M204.32 341.2V353.3M203.02 341.2H205.62M203.02 353.3H205.62M212.14 342.3V355.3M210.84 342.3H213.44M210.84 355.3H213.44M219.97 337.3V350.6M218.67 337.3H221.27M218.67 350.6H221.27M227.8 370.1V381.1M226.5 370.1H229.1M226.5 381.1H229.1M235.62 347.9V358.4M234.32 347.9H236.92M234.32 358.4H236.92M243.45 355.3V365.4M242.15 355.3H244.75M242.15 365.4H244.75M251.28 369.8V378.7M249.98 369.8H252.58M249.98 378.7H252.58M259.1 358.4V367.8M257.8 358.4H260.4M257.8 367.8H260.4M266.93 366.7V375.6M265.63 366.7H268.23M265.63 375.6H268.23M274.76 379.5V387M273.46 379.5H276.06M273.46 387H276.06M282.58 376.4V383.9M281.28 376.4H283.88M281.28 383.9H283.88M290.41 382.8V389.4M289.11 382.8H291.71M289.11 389.4H291.71M298.23 387.8V392.5M296.93 387.8H299.53M296.93 392.5H299.53M306.06 379.2V385.5M304.76 379.2H307.36M304.76 385.5H307.36M313.89 378.1V383.9M312.59 378.1H315.19M312.59 383.9H315.19M321.71 387.8V392.2M320.41 387.8H323.01M320.41 392.2H323.01M329.54 384.7V389.4M328.24 384.7H330.84M328.24 389.4H330.84" fill="none" stroke="#0000dd" stroke-width="1.3"/><path d="M55.61 329.94L58.41 335.26H52.81Z" fill="#0000dd" stroke="#0000dd" stroke-width="0.6" stroke-linejoin="miter"/><path d="M63.44 351.54L66.24 356.86H60.64Z" fill="#0000dd" stroke="#0000dd" stroke-width="0.6" stroke-linejoin="miter"/><path d="M71.27 354.14L74.07 359.46H68.47Z" fill="#0000dd" stroke="#0000dd" stroke-width="0.6" stroke-linejoin="miter"/><path d="M79.09 363.54L81.89 368.86H76.29Z" fill="#0000dd" stroke="#0000dd" stroke-width="0.6" stroke-linejoin="miter"/><path d="M86.92 347.14L89.72 352.46H84.12Z" fill="#0000dd" stroke="#0000dd" stroke-width="0.6" stroke-linejoin="miter"/><path d="M94.75 337.74L97.55 343.06H91.95Z" fill="#0000dd" stroke="#0000dd" stroke-width="0.6" stroke-linejoin="miter"/><path d="M102.57 350.24L105.37 355.56H99.77Z" fill="#0000dd" stroke="#0000dd" stroke-width="0.6" stroke-linejoin="miter"/><path d="M110.4 347.94L113.2 353.26H107.6Z" fill="#0000dd" stroke="#0000dd" stroke-width="0.6" stroke-linejoin="miter"/><path d="M118.23 352.34L121.03 357.66H115.43Z" fill="#0000dd" stroke="#0000dd" stroke-width="0.6" stroke-linejoin="miter"/><path d="M126.05 347.14L128.85 352.46H123.25Z" fill="#0000dd" stroke="#0000dd" stroke-width="0.6" stroke-linejoin="miter"/><path d="M133.88 352.34L136.68 357.66H131.08Z" fill="#0000dd" stroke="#0000dd" stroke-width="0.6" stroke-linejoin="miter"/><path d="M141.7 347.64L144.5 352.96H138.9Z" fill="#0000dd" stroke="#0000dd" stroke-width="0.6" stroke-linejoin="miter"/><path d="M149.53 369.04L152.33 374.36H146.73Z" fill="#0000dd" stroke="#0000dd" stroke-width="0.6" stroke-linejoin="miter"/><path d="M157.36 340.94L160.16 346.26H154.56Z" fill="#0000dd" stroke="#0000dd" stroke-width="0.6" stroke-linejoin="miter"/><path d="M165.18 364.64L167.98 369.96H162.38Z" fill="#0000dd" stroke="#0000dd" stroke-width="0.6" stroke-linejoin="miter"/><path d="M173.01 360.94L175.81 366.26H170.21Z" fill="#0000dd" stroke="#0000dd" stroke-width="0.6" stroke-linejoin="miter"/><path d="M180.84 381.84L183.64 387.16H178.04Z" fill="#0000dd" stroke="#0000dd" stroke-width="0.6" stroke-linejoin="miter"/><path d="M188.66 352.64L191.46 357.96H185.86Z" fill="#0000dd" stroke="#0000dd" stroke-width="0.6" stroke-linejoin="miter"/><path d="M196.49 362.04L199.29 367.36H193.69Z" fill="#0000dd" stroke="#0000dd" stroke-width="0.6" stroke-linejoin="miter"/><path d="M204.32 344.84L207.12 350.16H201.52Z" fill="#0000dd" stroke="#0000dd" stroke-width="0.6" stroke-linejoin="miter"/><path d="M212.14 346.34L214.94 351.66H209.34Z" fill="#0000dd" stroke="#0000dd" stroke-width="0.6" stroke-linejoin="miter"/><path d="M219.97 341.24L222.77 346.56H217.17Z" fill="#0000dd" stroke="#0000dd" stroke-width="0.6" stroke-linejoin="miter"/><path d="M227.8 372.94L230.6 378.26H225Z" fill="#0000dd" stroke="#0000dd" stroke-width="0.6" stroke-linejoin="miter"/><path d="M235.62 350.64L238.42 355.96H232.82Z" fill="#0000dd" stroke="#0000dd" stroke-width="0.6" stroke-linejoin="miter"/><path d="M243.45 358.44L246.25 363.76H240.65Z" fill="#0000dd" stroke="#0000dd" stroke-width="0.6" stroke-linejoin="miter"/><path d="M251.28 371.84L254.08 377.16H248.48Z" fill="#0000dd" stroke="#0000dd" stroke-width="0.6" stroke-linejoin="miter"/><path d="M259.1 360.94L261.9 366.26H256.3Z" fill="#0000dd" stroke="#0000dd" stroke-width="0.6" stroke-linejoin="miter"/><path d="M266.93 368.74L269.73 374.06H264.13Z" fill="#0000dd" stroke="#0000dd" stroke-width="0.6" stroke-linejoin="miter"/><path d="M274.76 380.74L277.56 386.06H271.96Z" fill="#0000dd" stroke="#0000dd" stroke-width="0.6" stroke-linejoin="miter"/><path d="M282.58 378.09L285.38 383.41H279.78Z" fill="#0000dd" stroke="#0000dd" stroke-width="0.6" stroke-linejoin="miter"/><path d="M290.41 383.59L293.21 388.91H287.61Z" fill="#0000dd" stroke="#0000dd" stroke-width="0.6" stroke-linejoin="miter"/><path d="M298.23 387.54L301.03 392.86H295.43Z" fill="#0000dd" stroke="#0000dd" stroke-width="0.6" stroke-linejoin="miter"/><path d="M306.06 379.64L308.86 384.96H303.26Z" fill="#0000dd" stroke="#0000dd" stroke-width="0.6" stroke-linejoin="miter"/><path d="M313.89 378.14L316.69 383.46H311.09Z" fill="#0000dd" stroke="#0000dd" stroke-width="0.6" stroke-linejoin="miter"/><path d="M321.71 387.14L324.51 392.46H318.91Z" fill="#0000dd" stroke="#0000dd" stroke-width="0.6" stroke-linejoin="miter"/><path d="M329.54 384.64L332.34 389.96H326.74Z" fill="#0000dd" stroke="#0000dd" stroke-width="0.6" stroke-linejoin="miter"/><path d="M337.37 386.24L340.17 391.56H334.57Z" fill="#0000dd" stroke="#0000dd" stroke-width="0.6" stroke-linejoin="miter"/><path d="M345.19 385.44L347.99 390.76H342.39Z" fill="#0000dd" stroke="#0000dd" stroke-width="0.6" stroke-linejoin="miter"/><path d="M353.02 385.14L355.82 390.46H350.22Z" fill="#0000dd" stroke="#0000dd" stroke-width="0.6" stroke-linejoin="miter"/><path d="M360.85 379.24L363.65 384.56H358.05Z" fill="#0000dd" stroke="#0000dd" stroke-width="0.6" stroke-linejoin="miter"/></g>
<path d="M51.7 17.5V25.5M51.7 317.5V309.5M51.7 317.5V322.5M51.7 477.8V472.8M61.67 17.5V19.5M61.67 317.5V315.5M61.67 317.5V319.5M61.67 477.8V475.8M71.63 17.5V21.5M71.63 317.5V313.5M71.63 317.5V320M71.63 477.8V475.3M81.6 17.5V19.5M81.6 317.5V315.5M81.6 317.5V319.5M81.6 477.8V475.8M91.56 17.5V21.5M91.56 317.5V313.5M91.56 317.5V320M91.56 477.8V475.3M101.53 17.5V19.5M101.53 317.5V315.5M101.53 317.5V319.5M101.53 477.8V475.8M111.49 17.5V21.5M111.49 317.5V313.5M111.49 317.5V320M111.49 477.8V475.3M121.46 17.5V19.5M121.46 317.5V315.5M121.46 317.5V319.5M121.46 477.8V475.8M131.42 17.5V21.5M131.42 317.5V313.5M131.42 317.5V320M131.42 477.8V475.3M141.38 17.5V19.5M141.38 317.5V315.5M141.38 317.5V319.5M141.38 477.8V475.8M151.35 17.5V25.5M151.35 317.5V309.5M151.35 317.5V322.5M151.35 477.8V472.8M161.31 17.5V19.5M161.31 317.5V315.5M161.31 317.5V319.5M161.31 477.8V475.8M171.28 17.5V21.5M171.28 317.5V313.5M171.28 317.5V320M171.28 477.8V475.3M181.25 17.5V19.5M181.25 317.5V315.5M181.25 317.5V319.5M181.25 477.8V475.8M191.21 17.5V21.5M191.21 317.5V313.5M191.21 317.5V320M191.21 477.8V475.3M201.18 17.5V19.5M201.18 317.5V315.5M201.18 317.5V319.5M201.18 477.8V475.8M211.14 17.5V21.5M211.14 317.5V313.5M211.14 317.5V320M211.14 477.8V475.3M221.11 17.5V19.5M221.11 317.5V315.5M221.11 317.5V319.5M221.11 477.8V475.8M231.07 17.5V21.5M231.07 317.5V313.5M231.07 317.5V320M231.07 477.8V475.3M241.04 17.5V19.5M241.04 317.5V315.5M241.04 317.5V319.5M241.04 477.8V475.8M251 17.5V25.5M251 317.5V309.5M251 317.5V322.5M251 477.8V472.8M260.97 17.5V19.5M260.97 317.5V315.5M260.97 317.5V319.5M260.97 477.8V475.8M270.93 17.5V21.5M270.93 317.5V313.5M270.93 317.5V320M270.93 477.8V475.3M280.9 17.5V19.5M280.9 317.5V315.5M280.9 317.5V319.5M280.9 477.8V475.8M290.86 17.5V21.5M290.86 317.5V313.5M290.86 317.5V320M290.86 477.8V475.3M300.82 17.5V19.5M300.82 317.5V315.5M300.82 317.5V319.5M300.82 477.8V475.8M310.79 17.5V21.5M310.79 317.5V313.5M310.79 317.5V320M310.79 477.8V475.3M320.75 17.5V19.5M320.75 317.5V315.5M320.75 317.5V319.5M320.75 477.8V475.8M330.72 17.5V21.5M330.72 317.5V313.5M330.72 317.5V320M330.72 477.8V475.3M340.69 17.5V19.5M340.69 317.5V315.5M340.69 317.5V319.5M340.69 477.8V475.8M350.65 17.5V25.5M350.65 317.5V309.5M350.65 317.5V322.5M350.65 477.8V472.8M360.62 17.5V19.5M360.62 317.5V315.5M360.62 317.5V319.5M360.62 477.8V475.8M370.58 17.5V21.5M370.58 317.5V313.5M370.58 317.5V320M370.58 477.8V475.3M45.5 314.38H51.5M371.2 314.38H365.2M45.5 309.19H51.5M371.2 309.19H365.2M45.5 304.95H51.5M371.2 304.95H365.2M45.5 301.37H51.5M371.2 301.37H365.2M45.5 298.26H51.5M371.2 298.26H365.2M45.5 295.52H51.5M371.2 295.52H365.2M45.5 293.07H56.5M371.2 293.07H360.2M45.5 276.95H51.5M371.2 276.95H365.2M45.5 267.52H51.5M371.2 267.52H365.2M45.5 260.82H51.5M371.2 260.82H365.2M45.5 255.63H51.5M371.2 255.63H365.2M45.5 251.39H51.5M371.2 251.39H365.2M45.5 247.81H51.5M371.2 247.81H365.2M45.5 244.7H51.5M371.2 244.7H365.2M45.5 241.96H51.5M371.2 241.96H365.2M45.5 239.51H56.5M371.2 239.51H360.2M45.5 223.39H51.5M371.2 223.39H365.2M45.5 213.96H51.5M371.2 213.96H365.2M45.5 207.26H51.5M371.2 207.26H365.2M45.5 202.07H51.5M371.2 202.07H365.2M45.5 197.83H51.5M371.2 197.83H365.2M45.5 194.25H51.5M371.2 194.25H365.2M45.5 191.14H51.5M371.2 191.14H365.2M45.5 188.4H51.5M371.2 188.4H365.2M45.5 185.95H56.5M371.2 185.95H360.2M45.5 169.83H51.5M371.2 169.83H365.2M45.5 160.4H51.5M371.2 160.4H365.2M45.5 153.7H51.5M371.2 153.7H365.2M45.5 148.51H51.5M371.2 148.51H365.2M45.5 144.27H51.5M371.2 144.27H365.2M45.5 140.69H51.5M371.2 140.69H365.2M45.5 137.58H51.5M371.2 137.58H365.2M45.5 134.84H51.5M371.2 134.84H365.2M45.5 132.39H56.5M371.2 132.39H360.2M45.5 116.27H51.5M371.2 116.27H365.2M45.5 106.84H51.5M371.2 106.84H365.2M45.5 100.14H51.5M371.2 100.14H365.2M45.5 94.95H51.5M371.2 94.95H365.2M45.5 90.71H51.5M371.2 90.71H365.2M45.5 87.13H51.5M371.2 87.13H365.2M45.5 84.02H51.5M371.2 84.02H365.2M45.5 81.28H51.5M371.2 81.28H365.2M45.5 78.83H56.5M371.2 78.83H360.2M45.5 62.71H51.5M371.2 62.71H365.2M45.5 53.28H51.5M371.2 53.28H365.2M45.5 46.58H51.5M371.2 46.58H365.2M45.5 41.39H51.5M371.2 41.39H365.2M45.5 37.15H51.5M371.2 37.15H365.2M45.5 33.57H51.5M371.2 33.57H365.2M45.5 30.46H51.5M371.2 30.46H365.2M45.5 27.72H51.5M371.2 27.72H365.2M45.5 25.27H56.5M371.2 25.27H360.2M45.5 458.28H52.5M371.2 458.28H364.2M45.5 442.33H50.5M371.2 442.33H366.2M45.5 428.85H50.5M371.2 428.85H366.2M45.5 417.17H50.5M371.2 417.17H366.2M45.5 406.87H50.5M371.2 406.87H366.2M45.5 397.65H52.5M371.2 397.65H364.2M45.5 389.31H50.5M371.2 389.31H366.2M45.5 381.7H50.5M371.2 381.7H366.2M45.5 374.7H50.5M371.2 374.7H366.2M45.5 368.22H50.5M371.2 368.22H366.2M45.5 362.18H52.5M371.2 362.18H364.2M45.5 356.54H50.5M371.2 356.54H366.2M45.5 351.24H50.5M371.2 351.24H366.2M45.5 346.24H50.5M371.2 346.24H366.2M45.5 341.51H50.5M371.2 341.51H366.2M45.5 337.02H52.5M371.2 337.02H364.2M45.5 332.75H50.5M371.2 332.75H366.2M45.5 328.68H50.5M371.2 328.68H366.2M45.5 324.79H50.5M371.2 324.79H366.2M45.5 321.07H50.5M371.2 321.07H366.2" fill="none" stroke="#000" stroke-width="1"/>
<rect x="45.5" y="17.5" width="325.7" height="300" fill="none" stroke="#000" stroke-width="1.3"/>
<rect x="45.5" y="317.5" width="325.7" height="160.3" fill="none" stroke="#000" stroke-width="1.3"/>
<text x="51.2" y="13.7" font-size="12" textLength="87.6" lengthAdjust="spacing">1960 GeV ppbar</text>
<text x="273" y="13.7" font-size="12" textLength="94.6" lengthAdjust="spacing">Top (parton level)</text>
<text x="186.6" y="43.6" font-size="10" textLength="43.4" lengthAdjust="spacing">Δϕ (ttbar)</text>
<text x="174.2" y="301.8" font-size="7.8" fill="#a8a8a8" textLength="67" lengthAdjust="spacing">(MC_FBA_TTBAR)</text>
<text x="35.5" y="30.67" font-size="11.3" text-anchor="end">10</text>
<text x="34.7" y="24.87" font-size="7.6">3</text>
<text x="35.5" y="84.23" font-size="11.3" text-anchor="end">10</text>
<text x="34.7" y="78.43" font-size="7.6">2</text>
<text x="33.4" y="244.91" font-size="11.3" text-anchor="end">10</text>
<text x="32.6" y="239.11" font-size="7.6">−1</text>
<text x="32.2" y="298.47" font-size="11.3" text-anchor="end">10</text>
<text x="31.4" y="292.67" font-size="7.6">−2</text>
<text x="40.3" y="137.49" font-size="11" textLength="12.2" lengthAdjust="spacing" text-anchor="end">10</text>
<text x="40.3" y="191.25" font-size="11" text-anchor="end">1</text>
<text x="39" y="341.62" font-size="11.5" text-anchor="end">2</text>
<text x="374" y="341.62" font-size="11.5">2</text>
<text x="39" y="402.25" font-size="11.5" text-anchor="end">1</text>
<text x="374" y="402.25" font-size="11.5">1</text>
<text x="39" y="462.88" font-size="11.5" text-anchor="end">0.5</text>
<text x="374" y="462.88" font-size="11.5">0.5</text>
<text x="51.7" y="489.3" font-size="11.5" text-anchor="middle">0</text>
<text x="151.35" y="489.3" font-size="11.5" text-anchor="middle">1</text>
<text x="251" y="489.3" font-size="11.5" text-anchor="middle">2</text>
<text x="350.65" y="489.3" font-size="11.5" text-anchor="middle">3</text>
<text transform="translate(17,446.5) rotate(-90)" font-size="9.3" textLength="100.5" lengthAdjust="spacing">Ratio to Pythia 6.428 370</text>
<text transform="translate(380.5,127.6) rotate(-90)" font-size="9.8" fill="#858585" textLength="109.5" lengthAdjust="spacing">Rivet 4.1.0, ≥ 100k events</text>
<text transform="translate(381,314) rotate(-90)" font-size="9.8" fill="#858585" textLength="147.2" lengthAdjust="spacing">mcplots.cern.ch [arXiv:2401.10621]</text>
<path d="M64 62.2H89" stroke="#a8143c" stroke-width="1.15"/>
<path d="M76.5 58.88L80 65.53H73Z" fill="none" stroke="#a8143c" stroke-width="1.2" stroke-linejoin="miter"/>
<text x="94.3" y="64.6" font-size="9.8" textLength="71.6" lengthAdjust="spacing">Pythia 6.428 370</text>
<path d="M64 75.2H89" stroke="#6c3358" stroke-width="1.15" stroke-dasharray="3.5 2 1 2"/>
<rect x="73.7" y="72.4" width="5.6" height="5.6" fill="none" stroke="#6c3358" stroke-width="1.05"/>
<text x="94.3" y="77.6" font-size="9.8" textLength="71" lengthAdjust="spacing">Pythia 6.428 391</text>
<path d="M64 88.2H89" stroke="#ff6e28" stroke-width="1.15" stroke-dasharray="3.5 2 1 2"/>
<rect x="74.2" y="85.9" width="4.6" height="4.6" fill="#ff6e28" stroke="#ff6e28" stroke-width="0.6"/>
<text x="94.3" y="90.6" font-size="9.8" textLength="83.6" lengthAdjust="spacing">Pythia 6.428 default</text>
<path d="M64 101.2H89" stroke="#0000dd" stroke-width="1.15"/>
<path d="M76.5 98.45L79.4 103.95H73.6Z" fill="#0000dd" stroke="#0000dd" stroke-width="0.6" stroke-linejoin="miter"/>
<text x="94.3" y="103.6" font-size="9.8" textLength="83.6" lengthAdjust="spacing">Pythia 8.201 default</text>
</svg></body></html>
